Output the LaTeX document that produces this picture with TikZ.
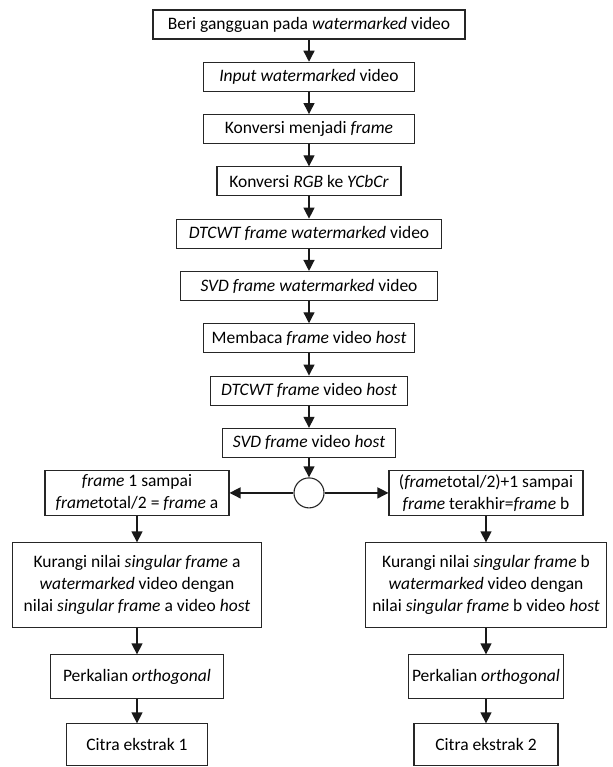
\documentclass[tikz,border=0pt]{standalone}
\usepackage{fontspec}
\setmainfont{Carlito}
\usetikzlibrary{arrows.meta, positioning}

\begin{document}
\begin{tikzpicture}[x=1pt,y=1pt,>={Triangle[length=11pt,width=11pt]},node distance=52.3pt,
  box/.style={draw=black!85, line width=1.1pt, inner sep=2pt, minimum height=29pt,
    align=center, font=\fontsize{17.5}{22}\selectfont},
  link/.style={->, line width=1.3pt, black!90}]

\useasboundingbox (0,0) rectangle (612,-767);

% the steps down the middle
  \node[box, minimum width=312pt] (beri) at (309,-24.5)
{Beri gangguan pada \textit{watermarked} video};
  \node[box, minimum width=211pt] (input)   [below of=beri]
{\textit{Input watermarked} video};
  \node[box, minimum width=211pt] (konvframe)   [below of=input]
{Konversi menjadi \textit{frame}};
  \node[box, minimum width=184pt] (konvrgb)   [below of=konvframe]
{Konversi \textit{RGB} ke \textit{YCbCr}};
  \node[box, minimum width=265pt] (dtcwtwm)   [below of=konvrgb]
{\textit{DTCWT frame watermarked} video};
  \node[box, minimum width=257pt] (svdwm)   [below of=dtcwtwm]
{\textit{SVD frame watermarked} video};
  \node[box, minimum width=211pt] (baca)   [below of=svdwm]
{Membaca \textit{frame} video \textit{host}};
  \node[box, minimum width=197pt] (dtcwthost)   [below of=baca]
{\textit{DTCWT frame} video \textit{host}};
  \node[box, minimum width=173pt] (svdhost)   [below of=dtcwthost]
{\textit{SVD frame} video \textit{host}};
  \node[draw=black!85, line width=1.1pt, circle, minimum size=30pt] (bagi)
    [below of=svdhost, node distance=50pt] {};

% the two branches
  \node[box, minimum width=184pt, minimum height=45pt] (framea)
    [left of=bagi, node distance=172pt]
{\textit{frame} 1 sampai\\\textit{frame}total/2 = \textit{frame} a};
  \node[box, minimum width=194pt, minimum height=45pt] (frameb)
    [right of=bagi, node distance=177pt]
{(\textit{frame}total/2)+1 sampai\\\textit{frame} terakhir=\textit{frame} b};
  \node[box, minimum width=249pt, minimum height=85pt] (kurangia)
    [below of=framea, node distance=92.5pt]
{Kurangi nilai \textit{singular frame} a\\\textit{watermarked} video dengan\\nilai \textit{singular frame} a video \textit{host}};
  \node[box, minimum width=241pt, minimum height=85pt] (kurangib)
    [below of=frameb, node distance=92.5pt]
{Kurangi nilai \textit{singular frame} b\\\textit{watermarked} video dengan\\nilai \textit{singular frame} b video \textit{host}};
  \node[box, minimum width=173pt, minimum height=44pt] (kalia)
    [below of=kurangia, node distance=91.5pt]
{Perkalian \textit{orthogonal}};
  \node[box, minimum width=155pt, minimum height=44pt] (kalib)
    [below of=kurangib, node distance=91.5pt]
{Perkalian \textit{orthogonal}};
  \node[box, minimum width=141pt, minimum height=42pt] (citraa)
    [below of=kalia, node distance=68pt]
{Citra ekstrak 1};
  \node[box, minimum width=144pt, minimum height=42pt] (citrab)
    [below of=kalib, node distance=68pt]
{Citra ekstrak 2};

% define the links
  \path[link] (beri) edge (input)
        (input) edge (konvframe)
        (konvframe) edge (konvrgb)
        (konvrgb) edge (dtcwtwm)
        (dtcwtwm) edge (svdwm)
        (svdwm) edge (baca)
        (baca) edge (dtcwthost)
        (dtcwthost) edge (svdhost)
        (svdhost) edge (bagi)
        (bagi) edge (framea)
               edge (frameb)
        (framea) edge (kurangia)
        (kurangia) edge (kalia)
        (kalia) edge (citraa)
        (frameb) edge (kurangib)
        (kurangib) edge (kalib)
        (kalib) edge (citrab);

\end{tikzpicture}
\end{document}
